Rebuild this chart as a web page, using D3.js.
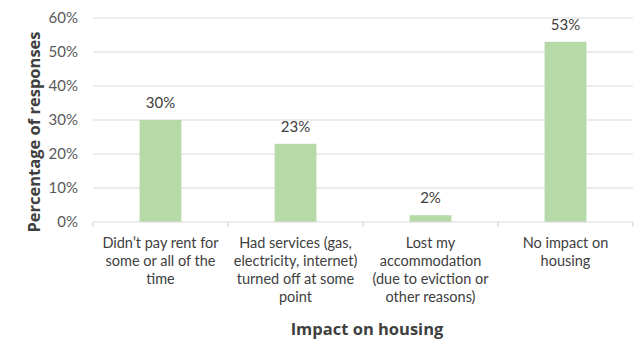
<!DOCTYPE html>
<html>
<head>
<meta charset="utf-8">
<script src="https://cdn.jsdelivr.net/npm/d3@7"></script>
<style>
  body { margin: 0; background: #fff; }
  text { font-family: Lato, "Open Sans", sans-serif; fill: #404040; }
  .title { font-family: "Open Sans", Lato, sans-serif; font-weight: bold; font-size: 16.5px; }
</style>
</head>
<body>
<svg id="chart" width="635" height="342"></svg>
<script>
// data
var categories = [
    ["Didn\u2019t pay rent for", "some or all of the", "time"],
    ["Had services (gas,", "electricity, internet)", "turned off at some", "point"],
    ["Lost my", "accommodation", "(due to eviction or", "other reasons)"],
    ["No impact on", "housing"]
];
var values = [30, 23, 2, 53];
var yTicks = [0, 10, 20, 30, 40, 50, 60];

var margin = { top: 18, right: 2, bottom: 120, left: 93 };
var width = 635 - margin.left - margin.right;
var height = 342 - margin.top - margin.bottom;

var svg = d3.select("#chart");
var g = svg.append("g").attr("transform", "translate(" + margin.left + "," + margin.top + ")");

var x = d3.scaleBand()
    .domain(d3.range(categories.length))
    .range([0, width])
    .paddingInner(0.69)
    .paddingOuter(0.345);

var y = d3.scaleLinear().domain([0, 60]).range([height, 0]);

// gridlines
g.selectAll(".grid")
    .data(yTicks.slice(1))
    .enter()
    .append("line")
    .attr("x1", 0)
    .attr("x2", width)
    .attr("y1", function (d) { return y(d); })
    .attr("y2", function (d) { return y(d); })
    .attr("stroke", "#d9d9d9")
    .attr("stroke-width", 1.2);

// y tick labels
g.selectAll(".ylab")
    .data(yTicks)
    .enter()
    .append("text")
    .attr("x", -15)
    .attr("y", function (d) { return y(d); })
    .attr("dy", "0.35em")
    .attr("text-anchor", "end")
    .style("font-size", "15px")
    .style("fill", "#595959")
    .text(function (d) { return d + "%"; });

// bars
g.selectAll(".bar")
    .data(values)
    .enter()
    .append("rect")
    .attr("x", function (d, i) { return x(i); })
    .attr("y", function (d) { return y(d); })
    .attr("width", x.bandwidth())
    .attr("height", function (d) { return height - y(d); })
    .attr("fill", "#b5d9a7");

// value labels
g.selectAll(".val")
    .data(values)
    .enter()
    .append("text")
    .attr("x", function (d, i) { return x(i) + x.bandwidth() / 2; })
    .attr("y", function (d) { return y(d) - 12; })
    .attr("text-anchor", "middle")
    .style("font-size", "15px")
    .text(function (d) { return d + "%"; });

// x axis line with ticks at category boundaries
var step = x.step();
g.append("line")
    .attr("x1", 0).attr("x2", width)
    .attr("y1", height).attr("y2", height)
    .attr("stroke", "#d9d9d9")
    .attr("stroke-width", 1.2);

g.selectAll(".xtick")
    .data(d3.range(categories.length + 1))
    .enter()
    .append("line")
    .attr("x1", function (d) { return d * step; })
    .attr("x2", function (d) { return d * step; })
    .attr("y1", height)
    .attr("y2", height + 5)
    .attr("stroke", "#d9d9d9")
    .attr("stroke-width", 1.2);

// category labels
var catText = g.selectAll(".cat")
    .data(categories)
    .enter()
    .append("text")
    .attr("text-anchor", "middle")
    .style("font-size", "14.5px")
    .attr("transform", function (d, i) {
        return "translate(" + (x(i) + x.bandwidth() / 2) + "," + (height + 26) + ")";
    });

catText.selectAll("tspan")
    .data(function (d) { return d; })
    .enter()
    .append("tspan")
    .attr("x", 0)
    .attr("y", function (d, i) { return i * 18; })
    .text(function (d) { return d; });

// axis titles
svg.append("text")
    .attr("class", "title")
    .attr("x", margin.left + width / 2 + 4)
    .attr("y", 335)
    .attr("text-anchor", "middle")
    .text("Impact on housing");

svg.append("text")
    .attr("class", "title")
    .attr("transform", "translate(40,132) rotate(-90)")
    .attr("text-anchor", "middle")
    .text("Percentage of responses");
</script>
</body>
</html>
